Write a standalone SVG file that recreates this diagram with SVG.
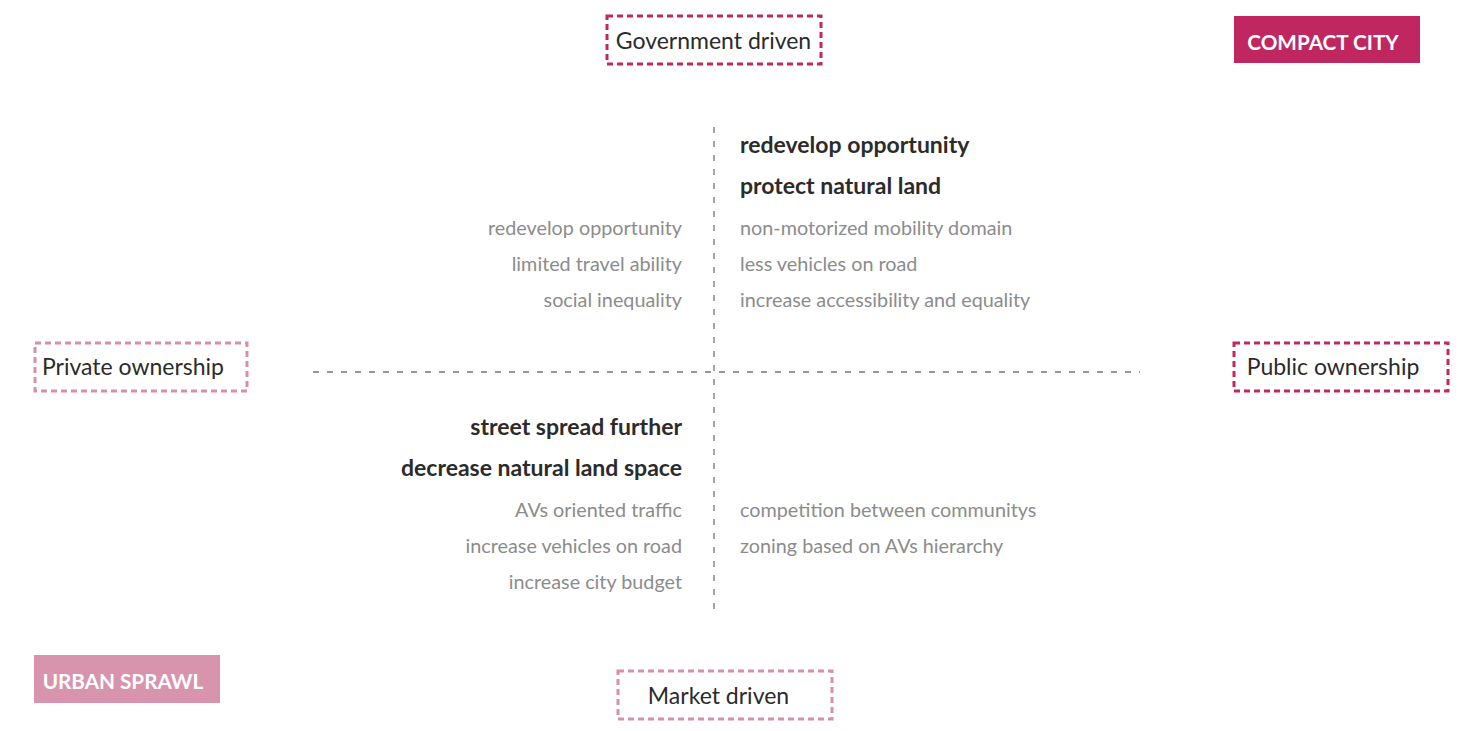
<svg xmlns="http://www.w3.org/2000/svg" width="1461" height="731" viewBox="0 0 1461 731">
<style>
text{font-family:Lato,"Open Sans","Liberation Sans",sans-serif}
.box{fill:#fff;stroke-width:3;stroke-dasharray:6 4}
.dk{stroke:#c0285f}
.lt{stroke:#d890aa}
.bl{font-size:23px;fill:#2b2b2b}
.tag{font-size:20.7px;font-weight:bold;fill:#fff}
.h{font-size:23px;font-weight:bold;fill:#2b2b2b}
.g{font-size:19.8px;fill:#8c8c8c}
.axis{stroke:#777;stroke-width:1.3;stroke-dasharray:6 8;fill:none}
</style>
<rect width="1461" height="731" fill="#fff"/>
<g id="connectors">
<line class="axis" x1="313" y1="372" x2="1140" y2="372"/>
<line class="axis" x1="714" y1="127" x2="714" y2="612"/>
</g>
<g id="government-driven">
<rect class="box dk" x="607" y="16" width="214" height="48"/>
<text class="bl" x="713.5" y="49" text-anchor="middle">Government driven</text>
</g>
<g id="compact-city">
<rect x="1234" y="16" width="186" height="47" fill="#c02660"/>
<text class="tag" x="1323" y="50" text-anchor="middle">COMPACT CITY</text>
</g>
<g id="private-ownership">
<rect class="box lt" x="35" y="343" width="212" height="48"/>
<text class="bl" x="133" y="375" text-anchor="middle">Private ownership</text>
</g>
<g id="public-ownership">
<rect class="box dk" x="1234" y="343" width="214" height="48"/>
<text class="bl" x="1333" y="375" text-anchor="middle">Public ownership</text>
</g>
<g id="urban-sprawl">
<rect x="34" y="655" width="186" height="48" fill="#d994ad"/>
<text class="tag" x="123" y="689" text-anchor="middle">URBAN SPRAWL</text>
</g>
<g id="market-driven">
<rect class="box lt" x="618" y="671" width="214" height="48"/>
<text class="bl" x="718.5" y="704" text-anchor="middle">Market driven</text>
</g>
<g id="quadrant-top-right">
<text class="h" x="740" y="153">redevelop opportunity</text>
<text class="h" x="740" y="194">protect natural land</text>
<text class="g" x="740" y="235">non-motorized mobility domain</text>
<text class="g" x="740" y="271">less vehicles on road</text>
<text class="g" x="740" y="307">increase accessibility and equality</text>
</g>
<g id="quadrant-top-left" text-anchor="end">
<text class="g" x="682" y="235">redevelop opportunity</text>
<text class="g" x="682" y="271">limited travel ability</text>
<text class="g" x="682" y="307">social inequality</text>
</g>
<g id="quadrant-bottom-left" text-anchor="end">
<text class="h" x="682" y="435">street spread further</text>
<text class="h" x="682" y="476">decrease natural land space</text>
<text class="g" x="682" y="517">AVs oriented traffic</text>
<text class="g" x="682" y="553">increase vehicles on road</text>
<text class="g" x="682" y="589">increase city budget</text>
</g>
<g id="quadrant-bottom-right">
<text class="g" x="740" y="517">competition between communitys</text>
<text class="g" x="740" y="553">zoning based on AVs hierarchy</text>
</g>
</svg>
